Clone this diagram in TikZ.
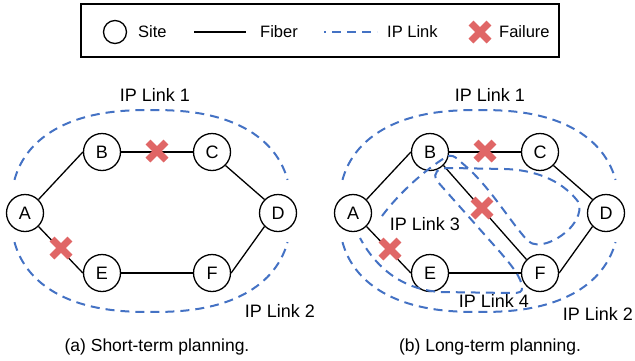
\documentclass[tikz,border=0pt]{standalone}
\usepackage{fontspec}
\setmainfont{Liberation Sans}
\usetikzlibrary{calc}
\definecolor{iplink}{RGB}{68,114,196}
\definecolor{failred}{RGB}{224,102,102}
\tikzset{
  site/.style={circle, draw=black, line width=1.3pt, minimum size=37pt, inner sep=0pt, font=\fontsize{18}{18}\selectfont},
  fiber/.style={draw=black, line width=1.3pt},
  ipl/.style={draw=iplink, line width=2pt, dash pattern=on 9pt off 6pt},
  lbl/.style={font=\fontsize{18}{18}\selectfont, inner sep=0pt},
  legtext/.style={font=\fontsize{16.5}{16.5}\selectfont, inner sep=0pt, anchor=west},
  captext/.style={font=\fontsize{17.5}{17.5}\selectfont, inner sep=0pt},
  failure/.pic={\draw[failred, line width=7pt] (-9,-9)--(9,9) (-9,9)--(9,-9);}
}
\begin{document}
\begin{tikzpicture}[x=1pt,y=-1pt]
\useasboundingbox (0,0) rectangle (635,360);
% legend
\node[draw=black, line width=1.2pt, minimum width=478pt, minimum height=53pt, inner sep=0pt] (legend) at (320,30.5) {};
\node[site, minimum size=23pt] (legsite) at (115,32) {};
\node[legtext] (legsitet) at (138,32) {Site};
\coordinate (lf1) at (194,32); \coordinate (lf2) at (246,32);
\draw[fiber] (lf1) -- (lf2);
\node[legtext] (legfibert) at (260,32) {Fiber};
\coordinate (li1) at (324,32); \coordinate (li2) at (377,32);
\draw[ipl, dash pattern=on 9pt off 6pt, dash phase=7pt] (li1) -- (li2);
\node[legtext] (legipt) at (387,32) {IP Link};
\pic at (480,32) {failure};
\node[legtext] (legfailt) at (499,32) {Failure};

% ---------- left diagram
\node[site] (A) at (25,213) {A};
\node[site] (B) at (102,152) {B};
\node[site] (C) at (212,152) {C};
\node[site] (D) at (278,213) {D};
\node[site] (E) at (102,273) {E};
\node[site] (F) at (212,273) {F};
\draw[fiber] (A.north east) -- (B.west);
\draw[fiber] (B.east) -- (C.west);
\draw[fiber] (C.south east) -- (D.north west);
\draw[fiber] (D.south west) -- (F.east);
\draw[fiber] (F.west) -- (E.east);
\draw[fiber] (E.west) -- (A.south east);
\draw[ipl] plot[domain=194:346, samples=80] ({151+140*cos(\x)*pow(abs(cos(\x))+0.00001,-0.17)}, {211+101*sin(\x)*pow(abs(sin(\x))+0.00001,-0.17)});
\draw[ipl] plot[domain=166:14, samples=80] ({151+140*cos(\x)*pow(abs(cos(\x))+0.00001,-0.17)}, {211+101*sin(\x)*pow(abs(sin(\x))+0.00001,-0.17)});
\pic at (157,151) {failure};
\pic at (61,248) {failure};
\node[lbl] (l1a) at (155,95) {IP Link 1};
\node[lbl] (l2a) at (280,311) {IP Link 2};
\node[captext] (capa) at (157,347) {(a) Short-term planning.};

% ---------- right diagram
\node[site] (A2) at (353,213) {A};
\node[site] (B2) at (430,152) {B};
\node[site] (C2) at (540,152) {C};
\node[site] (D2) at (606,213) {D};
\node[site] (E2) at (430,273) {E};
\node[site] (F2) at (540,273) {F};
\draw[fiber] (A2.north east) -- (B2.west);
\draw[fiber] (B2.east) -- (C2.west);
\draw[fiber] (C2.south east) -- (D2.north west);
\draw[fiber] (D2.south west) -- (F2.east);
\draw[fiber] (F2.west) -- (E2.east);
\draw[fiber] (E2.west) -- (A2.south east);
\draw[fiber] (B2.south east) -- (F2.north west);
\draw[ipl] plot[domain=194:346, samples=80] ({479+140*cos(\x)*pow(abs(cos(\x))+0.00001,-0.17)}, {211+101*sin(\x)*pow(abs(sin(\x))+0.00001,-0.17)});
\draw[ipl] plot[domain=166:14, samples=80] ({479+140*cos(\x)*pow(abs(cos(\x))+0.00001,-0.17)}, {211+101*sin(\x)*pow(abs(sin(\x))+0.00001,-0.17)});
% IP Link 3 / IP Link 4
\draw[ipl] (382,216) .. controls (400,192) and (425,170) .. (446,157)
  .. controls (451,154) and (455,156) .. (462,163)
  .. controls (490,186) and (510,222) .. (528,241)
  .. controls (538,250) and (560,240) .. (572,226)
  .. controls (580,216) and (582,205) .. (576,199)
  .. controls (560,180) and (535,170) .. (505,169)
  -- (450,168) .. controls (438,168) and (432,172) .. (437,181)
  -- (500,252) .. controls (512,266) and (522,278) .. (522,288)
  .. controls (522,292) and (520,293) .. (512,293)
  -- (440,292) .. controls (410,290) and (380,275) .. (360,238);
\pic at (485,151) {failure};
\pic at (482,208) {failure};
\pic at (390,249) {failure};
\node[lbl] (l1b) at (490,95) {IP Link 1};
\node[lbl] (l3b) at (425,224) {IP Link 3};
\node[lbl] (l4b) at (494,301) {IP Link 4};
\node[lbl] (l2b) at (598,314) {IP Link 2};
\node[captext] (capb) at (490,347) {(b) Long-term planning.};
\end{tikzpicture}
\end{document}
